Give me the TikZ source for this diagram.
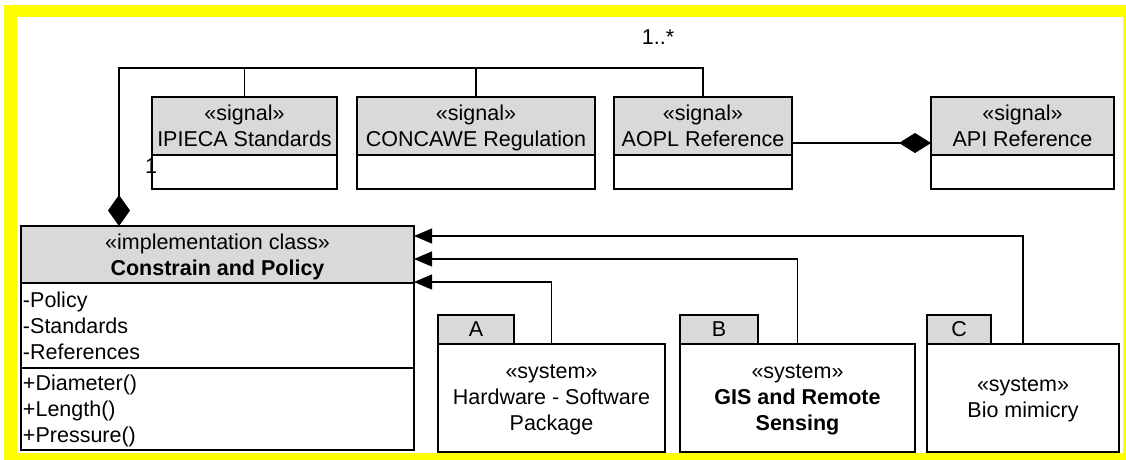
\documentclass[tikz,border=0pt]{standalone}
\usepackage{fontspec}
\setmainfont{Liberation Sans}
\usetikzlibrary{arrows.meta}
\definecolor{hdrgray}{RGB}{217,217,217}
\definecolor{frameyellow}{RGB}{255,255,0}
\begin{document}
\begin{tikzpicture}[x=1pt,y=-1pt,
  every node/.style={font=\fontsize{21.5}{26}\selectfont, inner sep=0pt, outer sep=0pt},
  umlbox/.style={draw, line width=1.8pt, fill=white, align=center},
  hdrbox/.style={umlbox, fill=hdrgray},
  listbox/.style={umlbox, align=left, text width=389pt, inner xsep=2pt},
  conn/.style={line width=1.3pt},
  arr/.style={conn, -{Triangle[length=18pt,width=15pt]}},
  lbl/.style={font=\fontsize{21.5}{26}\selectfont}
]
\useasboundingbox (0,0) rectangle (1126,460);
\fill[white] (0,0) rectangle (1126,460);
\fill[frameyellow] (4,5) rectangle (1126,460);
\fill[white] (17,17) rectangle (1123,453);

% signal classes
\node[hdrbox, minimum width=185pt, minimum height=58pt] (ipH) at (244.5,126) {«signal»\\IPIECA Standards};
\node[umlbox, minimum width=185pt, minimum height=34pt] (ipB) at (244.5,172) {};
\node[hdrbox, minimum width=238pt, minimum height=58pt] (coH) at (476,126) {«signal»\\\smash{CONCAWE Regulation}};
\node[umlbox, minimum width=238pt, minimum height=34pt] (coB) at (476,172) {};
\node[hdrbox, minimum width=178pt, minimum height=58pt] (aoH) at (703,126) {«signal»\\AOPL Reference};
\node[umlbox, minimum width=178pt, minimum height=34pt] (aoB) at (703,172) {};
\node[hdrbox, minimum width=183pt, minimum height=58pt] (apH) at (1022.5,126) {«signal»\\API Reference};
\node[umlbox, minimum width=183pt, minimum height=34pt] (apB) at (1022.5,172) {};

% implementation class
\node[hdrbox, minimum width=393pt, minimum height=57pt] (clsH) at (217.5,254.5) {«implementation class»\\\smash{\textbf{Constrain and Policy}}};
\node[listbox, minimum height=85pt] (clsA) at (217.5,325.5) {-Policy\\-Standards\\-References};
\node[listbox, minimum height=82pt] (clsM) at (217.5,409) {+Diameter()\\+Length()\\\smash{+Pressure()}};

% packages
\node[hdrbox, minimum width=76pt, minimum height=29pt] (tA) at (476,329.5) {A};
\node[umlbox, minimum width=227pt, minimum height=108pt] (pA) at (551.5,398) {«system»\\Hardware - Software\\\smash{Package}};
\node[hdrbox, minimum width=78pt, minimum height=29pt] (tB) at (719,329.5) {B};
\node[umlbox, minimum width=235pt, minimum height=108pt] (pB) at (797.5,398) {«system»\\\textbf{GIS and Remote}\\\smash{\textbf{Sensing}}};
\node[hdrbox, minimum width=64pt, minimum height=29pt] (tC) at (959,329.5) {C};
\node[umlbox, minimum width=192pt, minimum height=108pt] (pC) at (1023,398) {«system»\\\smash{Bio mimicry}};

% aggregation rail
\coordinate (rail) at (0,68);
\draw[conn, {Diamond[length=31pt,width=22pt]}-] (clsH.north -| 119,0) -- (rail -| 119,0) -| (aoH.north);
\draw[conn] (ipH.north) -- (ipH.north |- rail);
\draw[conn] (coH.north) -- (coH.north |- rail);
\draw[conn, -{Diamond[length=32pt,width=20pt]}] (aoH.east |- 0,143) -- (apH.west |- 0,143);

% dependencies
\draw[arr] (pC.north) |- (clsH.east |- 0,236);
\draw[arr] (pB.north) |- (clsH.east |- 0,259);
\draw[arr] (pA.north) |- (clsH.east |- 0,282);

% multiplicities
\node[lbl] (m1) at (658,37) {1..*};
\node[lbl] (m2) at (151,166) {1};
\end{tikzpicture}
\end{document}
